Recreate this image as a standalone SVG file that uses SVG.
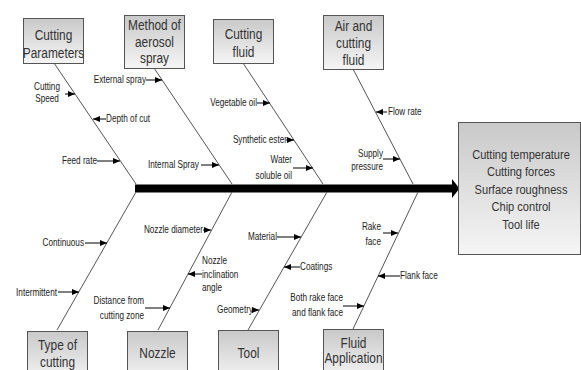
<svg xmlns="http://www.w3.org/2000/svg" width="581" height="370" viewBox="0 0 581 370">
<defs>
<linearGradient id="g" x1="0" y1="0" x2="0" y2="1">
<stop offset="0" stop-color="#c9c9c9"/>
<stop offset="1" stop-color="#f5f5f5"/>
</linearGradient>
<marker id="ah" markerUnits="userSpaceOnUse" markerWidth="7" markerHeight="6" refX="7" refY="3" orient="auto">
<path d="M0,0 L7,3 L0,6 z" fill="#000"/>
</marker>
</defs>
<style>
.box{fill:url(#g);stroke:#555;stroke-width:1}
.bt{font-family:"Liberation Sans",Arial,sans-serif;font-size:14.5px;fill:#333;text-anchor:middle}
.et{font-family:"Liberation Sans",Arial,sans-serif;font-size:13.5px;fill:#333;text-anchor:middle}
.bone{stroke:#555;stroke-width:1;fill:none}
.ar{stroke:#000;stroke-width:1;fill:none;marker-end:url(#ah)}
.lt{font-family:"Liberation Sans",Arial,sans-serif;font-size:10.5px;fill:#222}
.e{text-anchor:end}
.m{text-anchor:middle}
</style>
<rect width="581" height="370" fill="#fff"/>

<g id="connectors">
<line x1="135" y1="188.5" x2="453" y2="188.5" stroke="#000" stroke-width="8"/>
<path d="M452,179 L459.5,188.5 L452,198 z" fill="#000"/>
<line class="bone" x1="54" y1="63" x2="136" y2="184"/>
<line class="bone" x1="154" y1="68" x2="232" y2="184"/>
<line class="bone" x1="243" y1="63" x2="323" y2="184"/>
<line class="bone" x1="353" y1="69" x2="413" y2="184"/>
<line class="bone" x1="136" y1="192" x2="57" y2="330"/>
<line class="bone" x1="232" y1="192" x2="158" y2="330"/>
<line class="bone" x1="327" y1="192" x2="248" y2="330"/>
<line class="bone" x1="418" y1="192" x2="353" y2="329"/>
<line class="ar" x1="65" y1="94" x2="75" y2="94"/>
<line class="ar" x1="106" y1="119" x2="93" y2="119"/>
<line class="ar" x1="97" y1="161" x2="120" y2="161"/>
<line class="ar" x1="146" y1="80" x2="162" y2="80"/>
<line class="ar" x1="201" y1="165" x2="219" y2="165"/>
<line class="ar" x1="257" y1="103" x2="270" y2="103"/>
<line class="ar" x1="286" y1="140" x2="294" y2="140"/>
<line class="ar" x1="293" y1="168" x2="313" y2="168"/>
<line class="ar" x1="387" y1="112" x2="376" y2="112"/>
<line class="ar" x1="383" y1="159" x2="400" y2="159"/>
<line class="ar" x1="85" y1="243" x2="107" y2="243"/>
<line class="ar" x1="58" y1="292" x2="79" y2="292"/>
<line class="ar" x1="203" y1="230" x2="211" y2="230"/>
<line class="ar" x1="202" y1="274" x2="188" y2="274"/>
<line class="ar" x1="145" y1="308" x2="170" y2="308"/>
<line class="ar" x1="277" y1="237" x2="301" y2="237"/>
<line class="ar" x1="300" y1="267" x2="284" y2="267"/>
<line class="ar" x1="253" y1="310" x2="259" y2="310"/>
<line class="ar" x1="383" y1="233" x2="398" y2="233"/>
<line class="ar" x1="400" y1="276" x2="378" y2="276"/>
<line class="ar" x1="343" y1="306" x2="364" y2="306"/>
</g>

<g id="labels">
<text class="lt m" transform="translate(47,90) scale(.78,1)">Cutting</text>
<text class="lt m" transform="translate(47,102) scale(.78,1)">Speed</text>
<text class="lt" transform="translate(106,122) scale(.78,1)">Depth of cut</text>
<text class="lt e" transform="translate(97,164) scale(.78,1)">Feed rate</text>
<text class="lt e" transform="translate(146,83) scale(.78,1)">External spray</text>
<text class="lt" transform="translate(148,168) scale(.78,1)">Internal Spray</text>
<text class="lt e" transform="translate(257,106) scale(.78,1)">Vegetable oil</text>
<text class="lt e" transform="translate(287,143) scale(.78,1)">Synthetic ester</text>
<text class="lt e" transform="translate(292,163) scale(.78,1)">Water</text>
<text class="lt e" transform="translate(292,179) scale(.78,1)">soluble oil</text>
<text class="lt" transform="translate(388,115) scale(.78,1)">Flow rate</text>
<text class="lt e" transform="translate(383,157) scale(.78,1)">Supply</text>
<text class="lt e" transform="translate(383,170) scale(.78,1)">pressure</text>
<text class="lt e" transform="translate(84,246) scale(.78,1)">Continuous</text>
<text class="lt e" transform="translate(57,296) scale(.78,1)">Intermittent</text>
<text class="lt e" transform="translate(203,233) scale(.78,1)">Nozzle diameter</text>
<text class="lt" transform="translate(202,264) scale(.78,1)">Nozzle</text>
<text class="lt" transform="translate(202,278) scale(.78,1)">inclination</text>
<text class="lt" transform="translate(202,291) scale(.78,1)">angle</text>
<text class="lt e" transform="translate(144,304) scale(.78,1)">Distance from</text>
<text class="lt e" transform="translate(144,319) scale(.78,1)">cutting zone</text>
<text class="lt e" transform="translate(277,240) scale(.78,1)">Material</text>
<text class="lt" transform="translate(300,270) scale(.78,1)">Coatings</text>
<text class="lt e" transform="translate(253,313) scale(.78,1)">Geometry</text>
<text class="lt e" transform="translate(381,230) scale(.78,1)">Rake</text>
<text class="lt e" transform="translate(381,245) scale(.78,1)">face</text>
<text class="lt" transform="translate(400,279) scale(.78,1)">Flank face</text>
<text class="lt e" transform="translate(343,301) scale(.78,1)">Both rake face</text>
<text class="lt e" transform="translate(343,316) scale(.78,1)">and flank face</text>
</g>

<g id="cutting-parameters">
<rect class="box" x="23.5" y="18.5" width="60" height="45"/>
<text class="bt" transform="translate(53.5,40) scale(.82,1)">Cutting</text>
<text class="bt" transform="translate(53.5,58) scale(.82,1)">Parameters</text>
</g>
<g id="method-of-aerosol-spray">
<rect class="box" x="124.5" y="15.5" width="60" height="53"/>
<text class="bt" transform="translate(154.5,30) scale(.82,1)">Method of</text>
<text class="bt" transform="translate(154.5,47) scale(.82,1)">aerosol</text>
<text class="bt" transform="translate(154.5,63) scale(.82,1)">spray</text>
</g>
<g id="cutting-fluid">
<rect class="box" x="213.5" y="19.5" width="60" height="44"/>
<text class="bt" transform="translate(243.5,39) scale(.82,1)">Cutting</text>
<text class="bt" transform="translate(243.5,57) scale(.82,1)">fluid</text>
</g>
<g id="air-and-cutting-fluid">
<rect class="box" x="323.5" y="15.5" width="60" height="54"/>
<text class="bt" transform="translate(353.5,31) scale(.82,1)">Air and</text>
<text class="bt" transform="translate(353.5,48) scale(.82,1)">cutting</text>
<text class="bt" transform="translate(353.5,65) scale(.82,1)">fluid</text>
</g>
<g id="type-of-cutting">
<rect class="box" x="27.5" y="331.5" width="60" height="50"/>
<text class="bt" transform="translate(57.5,350) scale(.82,1)">Type of</text>
<text class="bt" transform="translate(57.5,367) scale(.82,1)">cutting</text>
</g>
<g id="nozzle">
<rect class="box" x="127.5" y="331.5" width="60" height="50"/>
<text class="bt" transform="translate(157.5,358) scale(.82,1)">Nozzle</text>
</g>
<g id="tool">
<rect class="box" x="218.5" y="330.5" width="60" height="50"/>
<text class="bt" transform="translate(248.5,358) scale(.82,1)">Tool</text>
</g>
<g id="fluid-application">
<rect class="box" x="323.5" y="329.5" width="60" height="50"/>
<text class="bt" transform="translate(353.5,348) scale(.82,1)">Fluid</text>
<text class="bt" transform="translate(353.5,363) scale(.82,1)">Application</text>
</g>
<g id="effect">
<rect class="box" x="458.5" y="122.5" width="122" height="132"/>
<text class="et" transform="translate(521,158.5) scale(.82,1)">Cutting temperature</text>
<text class="et" transform="translate(521,176) scale(.82,1)">Cutting forces</text>
<text class="et" transform="translate(521,193.5) scale(.82,1)">Surface roughness</text>
<text class="et" transform="translate(521,211) scale(.82,1)">Chip control</text>
<text class="et" transform="translate(521,228.5) scale(.82,1)">Tool life</text>
</g>
</svg>
